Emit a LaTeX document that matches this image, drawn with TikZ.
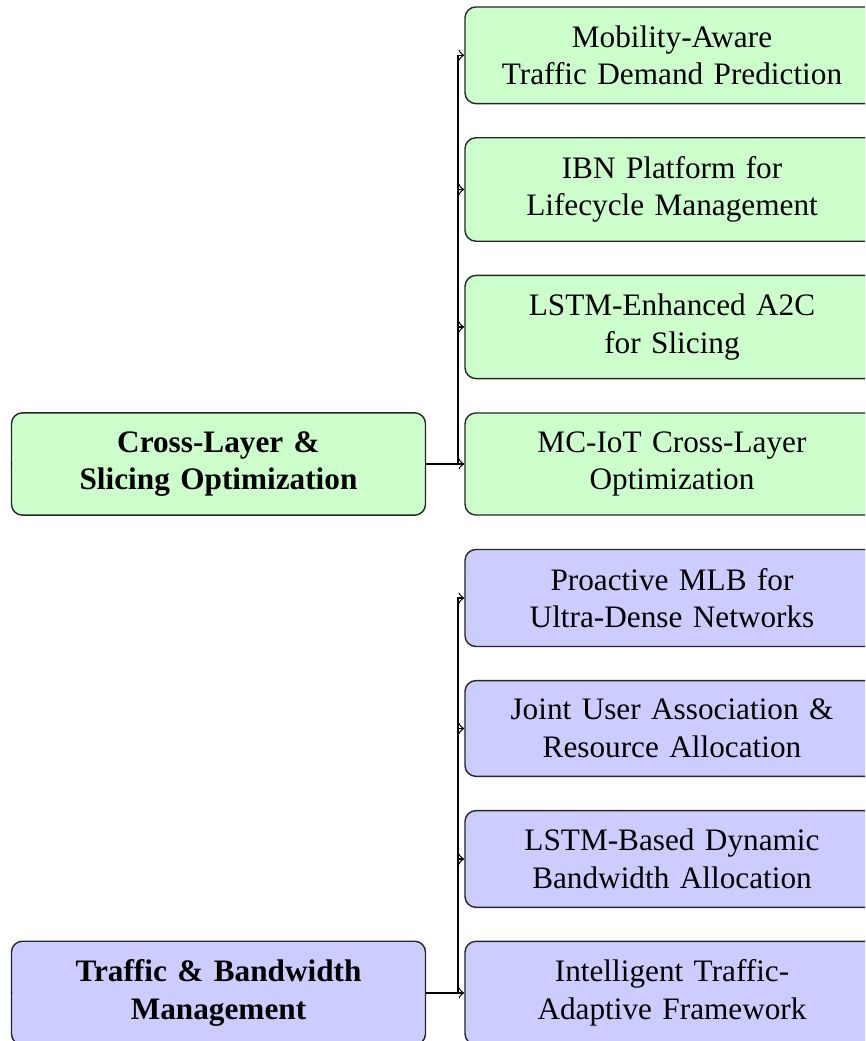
\documentclass[tikz,border=0pt]{standalone}
\usepackage{fontspec}
\setmainfont{Liberation Serif}
\begin{document}
\begin{tikzpicture}[x=0.32pt, y=-0.32pt,
  box/.style={draw=black!85, line width=0.45pt, rounded corners=3.5pt,
    align=center, text width=124.5pt, inner xsep=4pt, inner ysep=5.95pt,
    font=\fontsize{10}{12}\selectfont},
  greenbox/.style={box, fill=green!20},
  bluebox/.style={box, fill=blue!20},
  headbox/.style={font=\fontsize{10}{12}\selectfont\bfseries},
  edge/.style={->, draw=black, line width=0.4pt}]
\useasboundingbox (0,0) rectangle (865,1041);
\clip (0,0) rectangle (865,1041);

% first group
\node[greenbox, headbox] (L1) at (218.5,464) {Cross-Layer \&\\Slicing Optimization};
\node[greenbox] (g1) at (672,55.3) {Mobility-Aware\\Traffic Demand Prediction};
\node[greenbox] (g2) at (672,189.5) {IBN Platform for\\Lifecycle Management};
\node[greenbox] (g3) at (672,327) {LSTM-Enhanced A2C\\for Slicing};
\node[greenbox] (g4) at (672,464) {MC-IoT Cross-Layer\\Optimization};

% second group
\node[bluebox, headbox] (L2) at (218.5,993) {Traffic \& Bandwidth\\Management};
\node[bluebox] (b1) at (672,598) {Proactive MLB for\\Ultra-Dense Networks};
\node[bluebox] (b2) at (672,728.5) {Joint User Association \&\\Resource Allocation};
\node[bluebox] (b3) at (672,859) {LSTM-Based Dynamic\\Bandwidth Allocation};
\node[bluebox] (b4) at (672,993) {Intelligent Traffic-\\Adaptive Framework};

% fork points
\coordinate (f1) at (458,464);
\coordinate (f2) at (458,993);
\coordinate (r1) at (10.5,464);
\coordinate (r2) at (10.5,993);

% incoming stubs from the parent level
\draw (r1) -- (L1.west);
\draw (r2) -- (L2.west);

% forked edges
\foreach \c in {g1,g2,g3,g4} \draw[edge] (L1.east) -- (f1) |- (\c.west);
\foreach \c in {b1,b2,b3,b4} \draw[edge] (L2.east) -- (f2) |- (\c.west);
\end{tikzpicture}
\end{document}
